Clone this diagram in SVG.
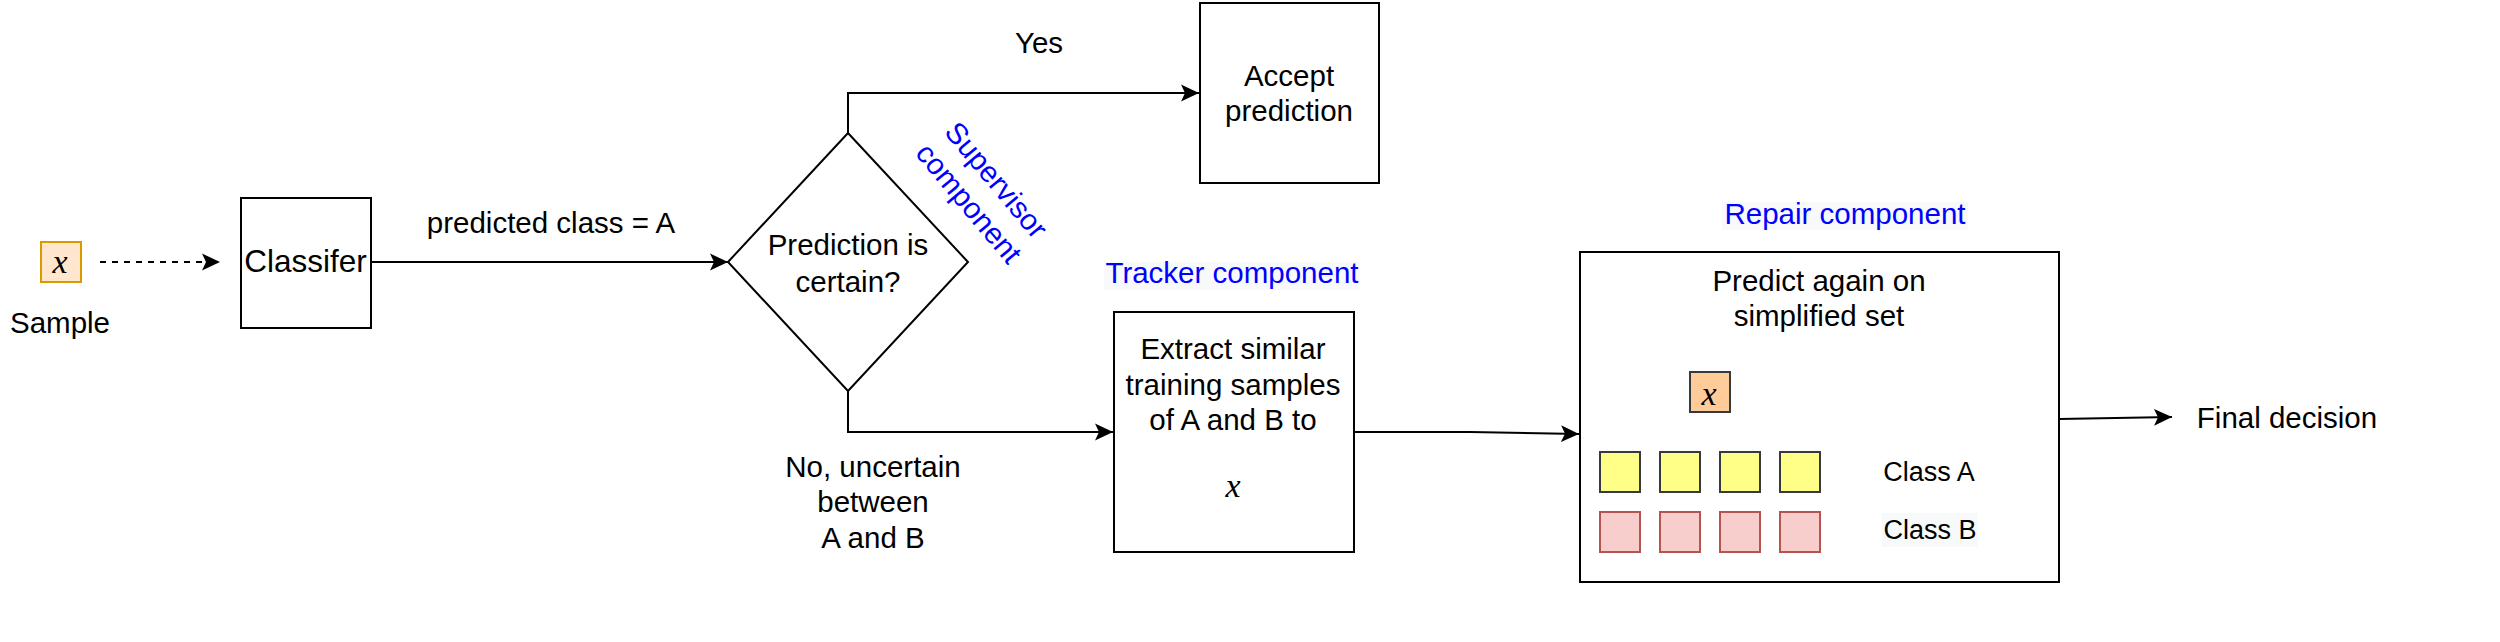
<svg xmlns="http://www.w3.org/2000/svg" width="2500" height="642" viewBox="0 0 2500 642">
<style>
.t{font-family:"Liberation Sans",Arial,sans-serif;font-size:29.5px;fill:#000;text-anchor:middle}
.s{font-size:27px}
.blue{fill:#0000FF}
.m{font-family:"Liberation Serif","DejaVu Serif",serif;font-style:italic;font-size:34px;fill:#000;text-anchor:middle}
.box{fill:#fff;stroke:#000;stroke-width:2}
.edge{fill:none;stroke:#000;stroke-width:2}
.bg{fill:#F8F9FA}
.ya{fill:#ffff88;stroke:#36393d;stroke-width:2}
.pb{fill:#f8cecc;stroke:#b85450;stroke-width:2}
</style>
<defs>
<marker id="arr" viewBox="0 0 18 18" refX="18" refY="9" markerWidth="18" markerHeight="18" markerUnits="userSpaceOnUse" orient="auto">
<path d="M0,0.5 L18,9 L0,17.5 L4,9 Z" fill="#000" stroke="none"/>
</marker>
</defs>
<rect width="2500" height="642" fill="#fff"/>
<g id="connectors">
<path class="edge" d="M100,262 L220,262" stroke-dasharray="6 6" marker-end="url(#arr)"/>
<path class="edge" d="M371,262 L728,262" marker-end="url(#arr)"/>
<path class="edge" d="M848,133 L848,93 L1199,93" marker-end="url(#arr)"/>
<path class="edge" d="M848,391 L848,432 L1113,432" marker-end="url(#arr)"/>
<path class="edge" d="M1354,432 L1470,432 L1579,434" marker-end="url(#arr)"/>
<path class="edge" d="M2059,419 L2172,417" marker-end="url(#arr)"/>
<text class="t" x="551" y="233">predicted class = A</text>
<text class="t" x="1039" y="53">Yes</text>
<text class="t" x="873" y="477">No, uncertain</text>
<text class="t" x="873" y="512">between</text>
<text class="t" x="873" y="548">A and B</text>
</g>
<g id="sample">
<rect x="41" y="242" width="40" height="40" fill="#ffe6cc" stroke="#d79b00" stroke-width="2"/>
<text class="m" x="60" y="273">x</text>
<text class="t" x="60" y="333">Sample</text>
</g>
<g id="classifier">
<rect class="box" x="241" y="198" width="130" height="130"/>
<text class="t" x="305.5" y="272" style="font-size:31.5px">Classifer</text>
</g>
<g id="decision">
<polygon class="box" points="728,262 848,133 968,262 848,391"/>
<text class="t" x="848" y="255">Prediction is</text>
<text class="t" x="848" y="292">certain?</text>
</g>
<g id="supervisor-label">
<text class="t blue" transform="translate(981,193) rotate(50)"><tspan x="0" y="-10">Supervisor</tspan><tspan x="0" y="26">component</tspan></text>
</g>
<g id="accept">
<rect class="box" x="1200" y="3" width="179" height="180"/>
<text class="t" x="1289" y="86">Accept</text>
<text class="t" x="1289" y="121">prediction</text>
</g>
<g id="tracker-label">
<rect class="bg" x="1104" y="262" width="256" height="28"/>
<text class="t blue" x="1232" y="283">Tracker component</text>
</g>
<g id="tracker">
<rect class="box" x="1114" y="312" width="240" height="240"/>
<text class="t" x="1233" y="359">Extract similar</text>
<text class="t" x="1233" y="395">training samples</text>
<text class="t" x="1233" y="430">of A and B to</text>
<text class="m" x="1233" y="497">x</text>
</g>
<g id="repair-label">
<rect class="bg" x="1722" y="202" width="246" height="28"/>
<text class="t blue" x="1845" y="224">Repair component</text>
</g>
<g id="repair">
<rect class="box" x="1580" y="252" width="479" height="330"/>
<text class="t" x="1819" y="291">Predict again on</text>
<text class="t" x="1819" y="326">simplified set</text>
<rect x="1690" y="372" width="40" height="40" fill="#ffcc99" stroke="#36393d" stroke-width="2"/>
<text class="m" x="1709" y="405">x</text>
<rect class="ya" x="1600" y="452" width="40" height="40"/>
<rect class="ya" x="1660" y="452" width="40" height="40"/>
<rect class="ya" x="1720" y="452" width="40" height="40"/>
<rect class="ya" x="1780" y="452" width="40" height="40"/>
<rect class="pb" x="1600" y="512" width="40" height="40"/>
<rect class="pb" x="1660" y="512" width="40" height="40"/>
<rect class="pb" x="1720" y="512" width="40" height="40"/>
<rect class="pb" x="1780" y="512" width="40" height="40"/>
<text class="t s" x="1929" y="481">Class A</text>
<rect class="bg" x="1882" y="513" width="96" height="34"/>
<text class="t s" x="1930" y="539">Class B</text>
</g>
<g id="final">
<text class="t" x="2287" y="428">Final decision</text>
</g>
</svg>
